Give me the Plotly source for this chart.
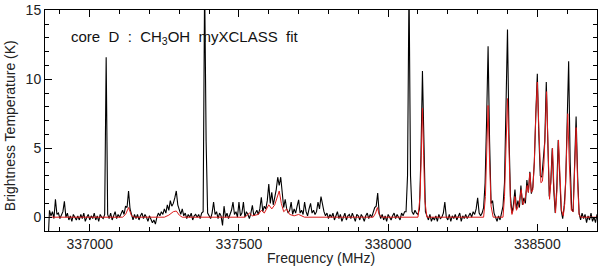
import numpy as np
import plotly.graph_objects as go

# Observed spectrum: channel grid (MHz) and brightness temperatures (K)
obs_start, obs_step = 336860, 5
obs_temp = [
    -2.0, 0.5, 0.1, 0.4, -0.1, 1.3, 0.2, 0.3, -0.1, 0.2,      # 336860
    0.4, 1.15, 0.0, 0.3, -0.2, 0.1, -0.3, 0.2, 0.0, -0.2,     # 336910
    0.1, -0.2, 0.2, -0.1, 0.3, -0.3, 0.0, 0.2, -0.2, 0.1,     # 336960
    -0.1, 0.3, -0.2, 0.1, -0.3, 0.2, 0.0, -0.1, 0.2, 11.6,    # 337010
    0.2, -0.1, 0.3, -0.2, 0.1, 0.4, -0.1, 0.2, 0.0, 0.3,      # 337060
    0.5, 0.2, 0.8, 0.7, 1.9, 0.6, 0.1, -0.2, 0.2, -0.1,       # 337110
    0.2, -0.2, 0.1, 0.3, -0.1, 0.2, 0.0, -0.3, 0.1, -0.2,     # 337160
    -0.4, -0.2, -0.5, 0.0, 0.3, 0.1, 0.4, 0.2, 0.6, 0.3,      # 337210
    0.9, 0.5, 1.2, 0.8, 1.0, 1.4, 1.9, 0.9, 0.5, 0.2,         # 337260
    0.6, 0.1, 0.3, -0.1, 0.2, 0.0, 0.3, -0.2, 0.1, 0.2,       # 337310
    0.0, 0.2, -0.1, 0.3, 0.4, 17.0, 5.5, 0.3, 0.1, -0.1,      # 337360
    0.3, 1.1, 0.2, 0.4, -0.1, 0.3, 0.1, -0.6, 0.8, 0.0,       # 337410
    0.3, -0.1, 0.2, 0.5, 1.1, 0.2, 0.4, 0.0, 1.1, 0.1,        # 337460
    0.3, 1.1, 0.0, 0.4, 0.2, -0.1, 0.3, 0.86, 0.1, 0.3,       # 337510
    0.5, 0.2, 0.6, 1.45, 0.4, 0.8, 0.6, 1.2, 2.4, 1.0,        # 337560
    1.8, 0.9, 1.4, 2.0, 2.9, 2.3, 2.9, 1.9, 0.7, 1.3,         # 337610
    0.6, 0.3, 0.5, 1.1, 0.2, 0.6, 0.3, 0.8, 1.26, 0.3,        # 337660
    0.5, 0.2, 1.1, 0.4, 0.1, 0.6, 1.0, 0.3, 0.5, 0.2,         # 337710
    0.4, 1.1, 0.6, 1.5, 0.9, 0.4, 0.1, 0.3, -0.1, 0.2,        # 337760
    0.0, 0.3, -0.2, 0.1, 0.4, -0.1, 0.2, -0.3, 0.1, 0.3,      # 337810
    -0.2, 0.1, 0.2, -0.1, 0.3, 0.0, -0.3, 0.2, 0.1, -0.2,     # 337860
    0.2, 0.0, -0.3, 0.1, 0.3, -0.1, 0.2, 0.0, 0.4, 0.7,       # 337910
    0.8, 1.75, 0.3, -0.1, 0.2, -0.2, 0.1, -0.3, 0.2, 0.0,     # 337960
    -0.2, 0.1, 0.3, -0.1, 0.2, 0.0, -0.2, 0.3, 0.1, 0.4,      # 338010
    0.4, 3.0, 17.0, 3.0, 0.4, 0.2, 0.5, 0.3, 0.2, 0.6,        # 338060
    4.5, 10.6, 4.0, 0.4, 0.1, -0.2, 0.2, -0.3, 0.0, -0.2,     # 338110
    0.1, -0.3, 0.2, -0.1, 0.0, 0.3, 1.1, 0.0, -0.2, 0.2,      # 338160
    -0.3, 0.1, -0.1, 0.2, -0.2, 0.0, 0.3, -0.3, 0.1, -0.1,    # 338210
    0.2, -0.1, 0.1, 0.3, 0.0, 0.4, 0.2, 0.6, 1.4, 0.3,        # 338260
    0.1, 0.3, 0.7, 2.5, 7.0, 12.4, 5.5, 1.0, 1.2, 0.3,        # 338310
    0.0, -0.3, 0.1, -0.2, 0.3, 0.8, 2.5, 7.5, 13.6, 6.0,      # 338360
    1.5, 0.3, 0.9, 2.0, 0.6, 1.2, 0.7, 2.3, 0.9, 1.4,         # 338410
    1.0, 2.7, 1.8, 3.3, 1.7, 2.2, 4.0, 7.5, 10.4, 6.0,        # 338460
    3.0, 2.9, 4.0, 5.5, 9.8, 6.0, 1.5, 2.5, 5.0, 2.0,         # 338510
    0.3, 2.0, 5.6, 3.0, 0.5, -0.1, 0.8, 2.5, 6.5, 11.3,       # 338560
    4.0, 0.6, 0.4, 3.5, 7.3, 3.0, 0.3, -0.2, 0.3, -0.1,       # 338610
    0.2, -0.4, 0.1, -0.2, 0.3, -0.3, 0.0, -0.4, 0.2, -0.1,    # 338660
]
obs_freq = obs_start + obs_step * np.arange(len(obs_temp))

# myXCLASS fit (MHz, K)
fit_freq = [336865, 337110, 337120, 337130, 337140, 337150, 337250, 337265, 337280,
            337290, 337300, 337310, 337520, 337535, 337545, 337565, 337575, 337585,
            337600, 337610, 337620, 337628, 337635, 337642, 337650, 337660, 337670,
            337685, 337700, 337720, 337950, 337958, 337964, 337970, 337978, 338100,
            338107, 338111, 338115, 338119, 338123, 338130, 338320, 338326, 338330,
            338335, 338340, 338345, 338352, 338385, 338390, 338395, 338400, 338405,
            338410, 338415, 338420, 338425, 338430, 338438, 338446, 338452, 338458,
            338466, 338470, 338475, 338480, 338485, 338490, 338495, 338500, 338505,
            338512, 338517, 338522, 338526, 338531, 338536, 338541, 338546, 338551,
            338556, 338561, 338566, 338571, 338576, 338581, 338587, 338592, 338597,
            338602, 338607, 338614, 338620, 338625, 338630, 338635, 338640, 338645,
            338700]
fit_temp = [0, 0, 0.2, 0.7, 0.1, 0, 0, 0.15, 0.4,
            0.45, 0.15, 0, 0, 0.3, 0.1, 0.2, 0.5, 0.3,
            0.9, 0.6, 0.9, 1.5, 1.9, 1.0, 0.4, 0.6, 0.2,
            0.1, 0.2, 0, 0, 0.3, 0.7, 0.2, 0, 0,
            1.5, 4.5, 7.9, 4.5, 1.2, 0, 0, 1.5, 4.5,
            8.1, 4.0, 0.8, 0, 0, 1.5, 5.0, 8.6, 5.0,
            1.0, 0.2, 0.6, 1.5, 0.5, 0.9, 2.0, 0.9, 1.2,
            2.3, 1.8, 3.2, 1.8, 2.0, 4.0, 7.5, 9.8, 6.5,
            2.5, 2.6, 3.8, 6.0, 9.1, 5.0, 1.3, 2.8, 5.0,
            2.0, 0.3, 2.0, 5.6, 3.0, 0.5, 0.1, 1.0, 4.0,
            7.5, 4.0, 0.5, 0.4, 3.0, 6.5, 2.5, 0.2, 0,
            0]

x_ticks = [337000, 337500, 338000, 338500]
y_ticks = [0, 5, 10, 15]

FONT = "Liberation Sans, Arial, sans-serif"

fig = go.Figure()
fig.add_trace(go.Scatter(x=obs_freq, y=obs_temp, mode="lines",
                         line=dict(color="black", width=1.1), hoverinfo="skip"))
fig.add_trace(go.Scatter(x=fit_freq, y=fit_temp, mode="lines",
                         line=dict(color="#dc1a1a", width=1), hoverinfo="skip"))

axis_common = dict(showgrid=False, zeroline=False, showline=True, linecolor="black",
                   linewidth=1, mirror="ticks", ticks="inside", ticklen=7,
                   tickcolor="black", tickwidth=1, ticklabeloverflow="allow",
                   tickfont=dict(family=FONT, size=14, color="#222"))

fig.update_xaxes(range=[336850, 338700], tickvals=x_ticks,
                 ticktext=[str(v) for v in x_ticks],
                 minor=dict(dtick=100, tick0=337000, ticks="inside", ticklen=4,
                            tickcolor="black"),
                 **axis_common)
fig.update_yaxes(range=[-1, 15.02], tickvals=y_ticks,
                 ticktext=[str(v) for v in y_ticks],
                 minor=dict(dtick=1, tick0=0, ticks="inside", ticklen=4,
                            tickcolor="black"),
                 **axis_common)

fig.update_layout(
    width=600, height=266,
    margin=dict(l=45, r=2, t=7, b=35),
    paper_bgcolor="white", plot_bgcolor="white",
    showlegend=False,
    annotations=[
        dict(text="core\u00a0\u00a0D\u00a0\u00a0:\u00a0\u00a0CH<sub>3</sub>OH\u00a0\u00a0myXCLASS\u00a0\u00a0fit",
             xref="x", yref="y", x=336930, y=13.0, xanchor="left", yanchor="middle",
             showarrow=False, font=dict(family=FONT, size=15, color="#111")),
        dict(text="Frequency (MHz)", xref="paper", yref="paper", x=0.5, y=0.0,
             yshift=-27, xanchor="center", yanchor="middle", showarrow=False,
             font=dict(family=FONT, size=14, color="#222")),
        dict(text="Brightness Temperature (K)", xref="paper", yref="y", x=0,
             xshift=-35, y=6.6, textangle=-90, xanchor="center", yanchor="middle",
             showarrow=False, font=dict(family=FONT, size=14, color="#222")),
    ],
)

fig.write_html("out.html", config={"displayModeBar": False},
               post_script="document.body.style.margin='0';document.body.style.padding='0';")
